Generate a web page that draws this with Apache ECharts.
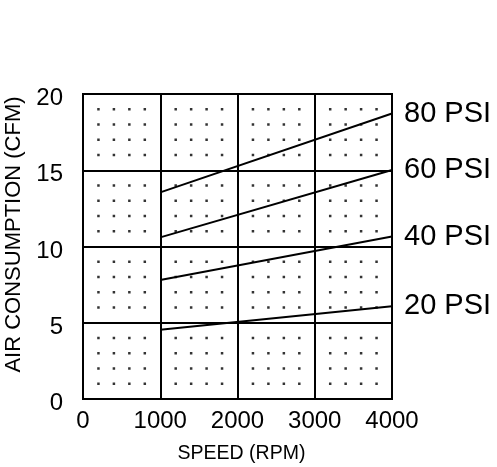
<!DOCTYPE html>
<html>
<head>
<meta charset="utf-8">
<script src="https://cdn.jsdelivr.net/npm/echarts@6/dist/echarts.min.js"></script>
<style>
html,body{margin:0;padding:0;background:#fff;}
#chart{width:497px;height:467px;}
</style>
</head>
<body>
<div id="chart"></div>
<script>
// Data
const speedTicks = [0, 1000, 2000, 3000, 4000];
const cfmTicks = [0, 5, 10, 15, 20];
const seriesNames = ['80 PSI', '60 PSI', '40 PSI', '20 PSI'];
const speedPoints = [1000, 4000];
const psi80 = [13.55, 18.72];
const psi60 = [10.6, 15.02];
const psi40 = [7.81, 10.65];
const psi20 = [4.54, 6.08];
// minor dot grid positions
const dotSpeeds = [200, 400, 600, 800, 1200, 1400, 1600, 1800, 2200, 2400, 2600, 2800, 3200, 3400, 3600, 3800];
const dotCfm = [1, 2, 3, 4, 6, 7, 8, 9, 11, 12, 13, 14, 16, 17, 18, 19];

const FONT = 'Liberation Sans';
const dots = [];
dotSpeeds.forEach(x => dotCfm.forEach(y => dots.push([x, y])));

function lineSeries(name, vals) {
  return {
    type: 'line',
    name: name,
    data: speedPoints.map((x, i) => [x, vals[i]]),
    symbol: 'none',
    silent: true,
    z: 5,
    lineStyle: { color: '#000', width: 2 },
    endLabel: {
      show: true,
      formatter: '{a}',
      color: '#000',
      fontFamily: FONT,
      fontSize: 29,
      distance: 12
    }
  };
}

const chart = echarts.init(document.getElementById('chart'), null, { renderer: 'canvas' });
chart.setOption({
  backgroundColor: '#fff',
  animation: false,
  grid: {
    left: 83, top: 94, width: 309, height: 305,
    outerBoundsMode: 'none', containLabel: false,
    show: true, borderColor: '#000', borderWidth: 2, backgroundColor: 'transparent'
  },
  xAxis: {
    type: 'value', min: speedTicks[0], max: speedTicks[speedTicks.length - 1], interval: 1000,
    name: 'SPEED (RPM)', nameLocation: 'middle', nameGap: 45,
    nameTextStyle: { fontFamily: FONT, fontSize: 19.5, color: '#000', padding: [0, 0, 0, 8] },
    axisLine: { show: true, lineStyle: { color: '#000', width: 2 } },
    axisTick: { show: false },
    splitLine: { show: true, lineStyle: { color: '#000', width: 2 } },
    axisLabel: { fontFamily: FONT, fontSize: 24, color: '#000', margin: 10, formatter: v => String(v) }
  },
  yAxis: {
    type: 'value', min: cfmTicks[0], max: cfmTicks[cfmTicks.length - 1], interval: 5,
    name: 'AIR CONSUMPTION (CFM)', nameLocation: 'middle', nameGap: 55,
    nameTextStyle: { fontFamily: FONT, fontSize: 22, color: '#000', padding: [0, 0, 0, 24] },
    axisLine: { show: true, lineStyle: { color: '#000', width: 2 } },
    axisTick: { show: false },
    splitLine: { show: true, lineStyle: { color: '#000', width: 2 } },
    axisLabel: { fontFamily: FONT, fontSize: 24, color: '#000', margin: 20,
      formatter: v => '{n|' + v + '}',
      rich: { n: { fontFamily: FONT, fontSize: 24, color: '#000', padding: [9, 0, 0, 0] } } }
  },
  series: [
    {
      type: 'scatter', data: dots, symbol: 'rect', symbolSize: 2.5, silent: true, z: 1,
      itemStyle: { color: '#000' }
    },
    lineSeries(seriesNames[0], psi80),
    lineSeries(seriesNames[1], psi60),
    lineSeries(seriesNames[2], psi40),
    lineSeries(seriesNames[3], psi20)
  ]
});
</script>
</body>
</html>
